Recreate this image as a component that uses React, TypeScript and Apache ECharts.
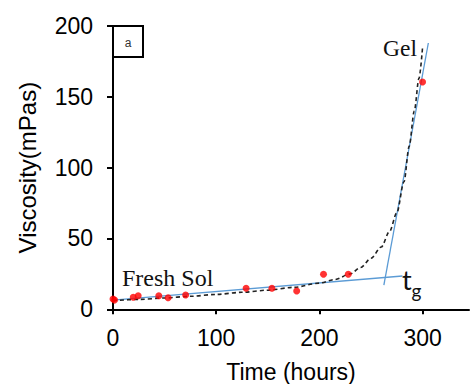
import React, { useEffect, useRef } from "react";
import * as echarts from "echarts";

const sampleTimes = [0, 1.5, 19.6, 24.4, 44.4, 53.4, 70.4, 129, 154, 178, 204, 228, 300];
const sampleViscosity = [7.3, 6.5, 8.5, 9.6, 9.6, 8.2, 10.1, 14.8, 14.8, 12.9, 24.7, 24.7, 160.5];

const fitTimes = [0, 25, 50, 75, 100, 125, 150, 175, 200, 215, 230, 240, 250, 260, 268, 275, 282, 287, 292, 296.5, 300];
const fitViscosity = [6, 7, 8, 9.2, 10.5, 12, 13.5, 15.5, 18.5, 21, 25, 29.5, 36, 44, 55, 68, 90, 115, 140, 163, 185];

const solLineTimes = [0, 280.5];
const solLineViscosity = [6.5, 23.5];
const gelLineTimes = [262.5, 305.6];
const gelLineViscosity = [17, 188];

const xTicks = [0, 100, 200, 300];

const zip = (a: number[], b: number[]) => a.map((v, i) => [v, b[i]]);

export default function App() {
  const ref = useRef<HTMLDivElement>(null);
  useEffect(() => {
    document.body.style.margin = "0";
    const chart = echarts.init(ref.current!, null, { renderer: "svg" });
    const sans = "Liberation Sans";
    const serif = "Liberation Serif";
    chart.setOption({
      animation: false,
      backgroundColor: "#fff",
      grid: { left: 113, top: 26, right: 1, bottom: 74.7, containLabel: false, outerBoundsMode: "none" },
      xAxis: {
        type: "value",
        min: 0,
        max: 345,
        interval: 100,
        name: "Time (hours)",
        nameLocation: "middle",
        nameGap: 51,
        nameTextStyle: { fontSize: 23, color: "#000", fontFamily: sans },
        axisLine: { show: true, onZero: false, lineStyle: { color: "#000", width: 2 } },
        axisTick: { show: true, length: 5, lineStyle: { color: "#000", width: 2 }, customValues: xTicks },
        axisLabel: { fontSize: 23, color: "#000", fontFamily: sans, margin: 17, customValues: xTicks },
        splitLine: { show: false },
      },
      yAxis: {
        type: "value",
        min: 0,
        max: 200,
        interval: 50,
        name: "Viscosity(mPas)",
        nameLocation: "middle",
        nameGap: 74,
        nameTextStyle: { fontSize: 24, color: "#000", fontFamily: sans },
        axisLine: { show: true, onZero: false, lineStyle: { color: "#000", width: 2 } },
        axisTick: { show: true, length: 6, lineStyle: { color: "#000", width: 2 } },
        axisLabel: { fontSize: 23, color: "#000", fontFamily: sans, margin: 20 },
        splitLine: { show: false },
      },
      series: [
        {
          type: "line",
          data: zip(solLineTimes, solLineViscosity),
          showSymbol: false,
          lineStyle: { color: "#5b9bd5", width: 1.3 },
          z: 2,
        },
        {
          type: "line",
          data: zip(gelLineTimes, gelLineViscosity),
          showSymbol: false,
          clip: false,
          lineStyle: { color: "#5b9bd5", width: 1.3 },
          z: 2,
        },
        {
          type: "line",
          data: zip(fitTimes, fitViscosity),
          showSymbol: false,
          smooth: 0.3,
          smoothMonotone: "x",
          lineStyle: { color: "#222", width: 1.6, type: [4, 3] },
          z: 3,
        },
        {
          type: "scatter",
          data: zip(sampleTimes, sampleViscosity),
          symbolSize: 7,
          clip: false,
          itemStyle: { color: "#ff0000" },
          z: 4,
        },
      ],
      graphic: [
        {
          type: "rect",
          shape: { x: 113, y: 26, width: 30, height: 31 },
          style: { fill: "none", stroke: "#000", lineWidth: 2 },
        },
        {
          type: "text",
          x: 128,
          y: 43,
          style: { text: "a", fontSize: 12, fontFamily: sans, fill: "#333", align: "center", verticalAlign: "middle" },
        },
        {
          type: "text",
          x: 122,
          y: 266,
          style: { text: "Fresh Sol", fontSize: 24, fontFamily: serif, fill: "#111", verticalAlign: "top" },
        },
        {
          type: "text",
          x: 383,
          y: 36,
          style: { text: "Gel", fontSize: 23.5, fontFamily: serif, fill: "#111", verticalAlign: "top" },
        },
        {
          type: "text",
          x: 402,
          y: 266,
          style: { text: "t", fontSize: 27, fontFamily: "Lato", fill: "#111", verticalAlign: "top" },
        },
        {
          type: "text",
          x: 411.5,
          y: 281,
          style: { text: "g", fontSize: 19, fontFamily: "Lato", fill: "#111", verticalAlign: "top" },
        },
      ],
    });
    return () => chart.dispose();
  }, []);
  return <div ref={ref} style={{ width: 470, height: 384 }} />;
}
